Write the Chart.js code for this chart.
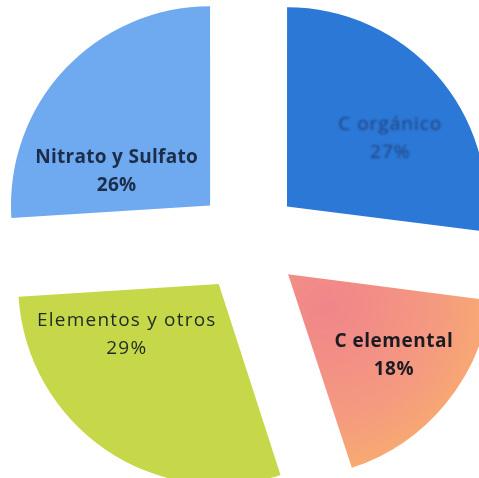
<!DOCTYPE html>
<html>
<head>
<meta charset="utf-8">
<script src="https://cdn.jsdelivr.net/npm/chart.js@4.4.1/dist/chart.umd.min.js"></script>
<style>
  html, body { margin: 0; padding: 0; background: #ffffff; }
  #wrap { width: 479px; height: 478px; }
</style>
</head>
<body>
<div id="wrap"><canvas id="c" width="479" height="478"></canvas></div>
<script>
// Composition shares (%)
const categories = ['C orgánico', 'C elemental', 'Elementos y otros', 'Nitrato y Sulfato'];
const shares = [27, 18, 29, 26];
const percentLabels = ['27%', '18%', '29%', '26%'];

// Slice fills
const fills = ['#2b78d6', null, '#c6d84a', '#6fa9ef'];

// Where each label sits inside its slice: fraction of the slice's angle, fraction of the radius
const labelPlacement = [
  { along: 0.58, out: 0.62 },
  { along: 0.47, out: 0.67 },
  { along: 0.76, out: 0.53 },
  { along: 0.25, out: 0.50 }
];
const labelStyle = [
  { weight: 'normal', color: 'rgba(30,55,110,0.85)', blur: 1.2, spacing: 1.0 },
  { weight: 'bold', color: '#1b1b22', blur: 0, spacing: 0.5 },
  { weight: 'normal', color: '#1e2a22', blur: 0, spacing: 1.2 },
  { weight: 'bold', color: '#1c2d4a', blur: 0, spacing: 0.3 }
];

// Chart.js v4 moves an arc out by offset / 4 pixels
const SLICE_SHIFT = 52;
const SLICE_OFFSET = SLICE_SHIFT * 4;
const RADIUS = 199;

// Warm gradient for the C elemental slice (pink near the middle, orange outwards)
function elementalFill(ctx) {
  const chart = ctx.chart;
  const area = chart.chartArea;
  if (!area) return '#f3a07a';
  const total = shares.reduce((a, b) => a + b, 0);
  let start = 0;
  for (let i = 0; i < ctx.dataIndex; i++) start += shares[i];
  const a0 = -Math.PI / 2 + 2 * Math.PI * start / total;
  const a1 = a0 + 2 * Math.PI * shares[ctx.dataIndex] / total;
  const mid = (a0 + a1) / 2;
  const cx = (area.left + area.right) / 2 + Math.cos(mid) * SLICE_SHIFT;
  const cy = (area.top + area.bottom) / 2 + Math.sin(mid) * SLICE_SHIFT;
  const g = chart.ctx.createRadialGradient(cx, cy, 0, cx, cy, RADIUS);
  g.addColorStop(0, '#f0858a');
  g.addColorStop(0.55, '#f59a80');
  g.addColorStop(1, '#f9b566');
  return g;
}

const sliceLabels = {
  id: 'sliceLabels',
  afterDatasetsDraw(chart) {
    const meta = chart.getDatasetMeta(0);
    const ctx = chart.ctx;
    meta.data.forEach((arc, i) => {
      const p = arc.getProps(['x', 'y', 'startAngle', 'endAngle', 'outerRadius'], true);
      const mid = (p.startAngle + p.endAngle) / 2;
      const off = arc.options.offset / 4;
      const ax = p.x + Math.cos(mid) * off;
      const ay = p.y + Math.sin(mid) * off;
      const pl = labelPlacement[i];
      const ang = p.startAngle + (p.endAngle - p.startAngle) * pl.along;
      const r = p.outerRadius * pl.out;
      const lx = ax + Math.cos(ang) * r;
      const ly = ay + Math.sin(ang) * r;
      const st = labelStyle[i];
      ctx.save();
      ctx.fillStyle = st.color;
      ctx.textAlign = 'center';
      ctx.textBaseline = 'middle';
      ctx.letterSpacing = st.spacing + 'px';
      if (st.blur) ctx.filter = 'blur(' + st.blur + 'px)';
      ctx.font = st.weight + ' 19px "Open Sans", Lato, sans-serif';
      ctx.fillText(categories[i], lx + st.spacing / 2, ly - 14);
      ctx.fillText(percentLabels[i], lx + st.spacing / 2, ly + 14);
      ctx.restore();
    });
  }
};

new Chart(document.getElementById('c'), {
  type: 'pie',
  data: {
    labels: categories,
    datasets: [{
      data: shares,
      backgroundColor: (ctx) => ctx.dataIndex === 1 ? elementalFill(ctx) : fills[ctx.dataIndex],
      borderWidth: 0,
      offset: SLICE_OFFSET,
      hoverOffset: 0,
      clip: false
    }]
  },
  options: {
    responsive: false,
    animation: false,
    radius: RADIUS,
    layout: { padding: { left: 17, right: 0, top: 4, bottom: 0 } },
    plugins: {
      legend: { display: false },
      tooltip: { enabled: false }
    },
    events: []
  },
  plugins: [sliceLabels]
});
</script>
</body>
</html>
